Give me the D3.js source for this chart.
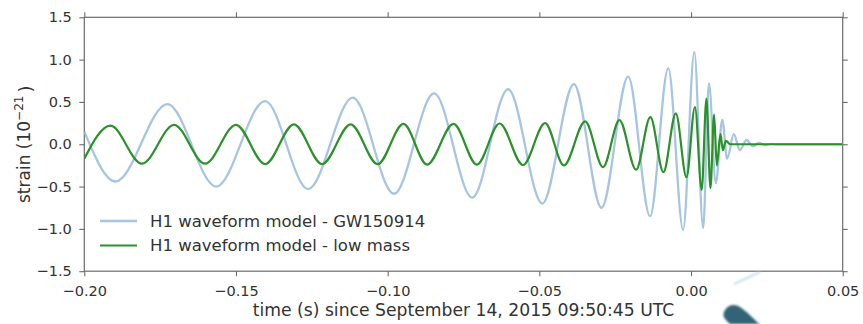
<!DOCTYPE html>
<html>
<head>
<meta charset="utf-8">
<script src="https://cdn.jsdelivr.net/npm/d3@7"></script>
<style>
  html, body { margin: 0; padding: 0; background: #fff; }
  svg { display: block; }
  text { font-family: "DejaVu Sans", "Bitstream Vera Sans", sans-serif; fill: #333; }
</style>
</head>
<body>
<svg id="chart" width="863" height="324"></svg>
<script>
// Strain waveforms (units of 1e-21) sampled at their turning points, time in seconds.
const gwTime = [-0.2000, -0.1897, -0.1726, -0.1565, -0.1404, -0.1262, -0.1115, -0.0979, -0.0847,
  -0.0721, -0.0603, -0.0490, -0.0386, -0.0295, -0.0207, -0.0135, -0.0075, -0.0026, 0.0011,
  0.0040, 0.0059, 0.0082, 0.0103, 0.0119, 0.0141, 0.0161, 0.0183, 0.0204, 0.0224, 0.0244,
  0.0264, 0.0287, 0.0500];
const gwStrain = [0.15, -0.44, 0.475, -0.50, 0.51, -0.53, 0.55, -0.585, 0.60,
  -0.63, 0.65, -0.70, 0.71, -0.75, 0.80, -0.85, 0.90, -1.01, 1.09,
  -0.99, 0.72, -0.46, 0.29, -0.17, 0.12, -0.07, 0.05, -0.025, 0.015, -0.01,
  0.005, 0.0, 0.0];

const lowTime = [-0.2000, -0.1914, -0.1810, -0.1704, -0.1602, -0.1500, -0.1404, -0.1309, -0.1216,
  -0.1122, -0.1033, -0.0948, -0.0870, -0.0783, -0.0706, -0.0631, -0.0554, -0.0481, -0.0419,
  -0.0349, -0.0290, -0.0236, -0.0181, -0.0134, -0.0091, -0.0050, -0.0015, 0.0013, 0.0035,
  0.0051, 0.0064, 0.0076, 0.0085, 0.0097, 0.0105, 0.0115, 0.0129, 0.0500];
const lowStrain = [-0.17, 0.22, -0.23, 0.23, -0.23, 0.23, -0.235, 0.235, -0.235,
  0.235, -0.235, 0.24, -0.24, 0.24, -0.24, 0.245, -0.245, 0.25, -0.25,
  0.27, -0.27, 0.285, -0.30, 0.32, -0.33, 0.365, -0.39, 0.44, -0.54,
  0.54, -0.52, 0.35, -0.25, 0.12, -0.07, 0.04, 0.0, 0.0];

const xTicks = [-0.20, -0.15, -0.10, -0.05, 0.00, 0.05];
const yTicks = [-1.5, -1.0, -0.5, 0.0, 0.5, 1.0, 1.5];

const seriesNames = ["H1 waveform model - GW150914", "H1 waveform model - low mass"];
const seriesColors = ["#a7c5e1", "#2b912b"];

const svg = d3.select("#chart");
const margin = { left: 84.3, right: 863 - 842.7, top: 17.3, bottom: 324 - 271.2 };
const W = 863, H = 324;

const x = d3.scaleLinear().domain([-0.20, 0.05]).range([margin.left, W - margin.right]);
const y = d3.scaleLinear().domain([-1.5, 1.5]).range([H - margin.bottom, margin.top]);

const defs = svg.append("defs");
defs.append("clipPath").attr("id", "plot-clip")
  .append("rect")
  .attr("x", x(-0.20)).attr("y", y(1.5))
  .attr("width", x(0.05) - x(-0.20)).attr("height", y(-1.5) - y(1.5));

const fmtMinus = s => s.replace("-", "\u2212");

// Axes: ticks point outward on all four sides
const axisColor = "#6b6b6b";
function styleAxis(g) {
  g.select(".domain").remove();
  g.selectAll(".tick line").attr("stroke", axisColor).attr("stroke-width", 1.1);
  g.selectAll(".tick text").style("font-size", "14.5px").attr("fill", "#333");
}

svg.append("g").attr("transform", `translate(0,${y(-1.5)})`)
  .call(d3.axisBottom(x).tickValues(xTicks).tickSize(5).tickPadding(10)
    .tickFormat(d => fmtMinus(d3.format(".2f")(d))))
  .call(styleAxis);
svg.append("g").attr("transform", `translate(0,${y(1.5)})`)
  .call(d3.axisTop(x).tickValues(xTicks).tickSize(5).tickFormat(""))
  .call(styleAxis);
svg.append("g").attr("transform", `translate(${x(-0.20)},0)`)
  .call(d3.axisLeft(y).tickValues(yTicks).tickSize(5).tickPadding(7.5)
    .tickFormat(d => fmtMinus(d3.format(".1f")(d))))
  .call(styleAxis);
svg.append("g").attr("transform", `translate(${x(0.05)},0)`)
  .call(d3.axisRight(y).tickValues(yTicks).tickSize(5).tickFormat(""))
  .call(styleAxis);

// Frame
svg.append("rect")
  .attr("x", x(-0.20)).attr("y", y(1.5))
  .attr("width", x(0.05) - x(-0.20)).attr("height", y(-1.5) - y(1.5))
  .attr("fill", "none").attr("stroke", axisColor).attr("stroke-width", 1.2);

// Waveforms
const line = d3.line()
  .x(d => x(d[0])).y(d => y(d[1]))
  .curve(d3.curveMonotoneX);

const plot = svg.append("g").attr("clip-path", "url(#plot-clip)");
plot.append("path")
  .datum(d3.zip(gwTime, gwStrain))
  .attr("d", line)
  .attr("fill", "none").attr("stroke", seriesColors[0]).attr("stroke-width", 2.3)
  .attr("stroke-linejoin", "round");
plot.append("path")
  .datum(d3.zip(lowTime, lowStrain))
  .attr("d", line)
  .attr("fill", "none").attr("stroke", seriesColors[1]).attr("stroke-width", 2.2)
  .attr("stroke-linejoin", "round");

// Legend
const legend = svg.append("g");
seriesNames.forEach((name, i) => {
  const ly = 221 + i * 24.5;
  legend.append("line")
    .attr("x1", 100).attr("x2", 137).attr("y1", ly).attr("y2", ly)
    .attr("stroke", seriesColors[i]).attr("stroke-width", i === 0 ? 2.3 : 2.2);
  legend.append("text")
    .attr("x", 150).attr("y", ly).attr("dy", "0.36em")
    .style("font-size", "16.5px")
    .text(name);
});

// Axis titles
svg.append("text")
  .attr("x", (x(-0.20) + x(0.05)) / 2).attr("y", 315.5)
  .attr("text-anchor", "middle")
  .style("font-size", "17.2px")
  .text("time (s) since September 14, 2015 09:50:45 UTC");

const yl = svg.append("text")
  .attr("transform", `translate(29.5,${y(0)}) rotate(-90)`)
  .attr("text-anchor", "middle")
  .style("font-size", "17px");
yl.append("tspan").text("strain (10");
yl.append("tspan").attr("dy", "-0.55em").style("font-size", "12px").text("\u221221");
yl.append("tspan").attr("dy", "0.55em").text("\u2009)");

// Ink smudge below the axis, near the right edge
defs.append("filter").attr("id", "soft")
  .append("feGaussianBlur").attr("stdDeviation", 1.2);
svg.append("path")
  .attr("d", "M724,312 C727,305 734,303 740,307 C746,311 751,316 757,322 L760,324 L730,324 C726,320 722,317 724,312 Z")
  .attr("fill", "#1d5368").attr("filter", "url(#soft)").attr("opacity", 0.9);
svg.append("path")
  .attr("d", "M734,284 L760,272")
  .attr("stroke", "#b9d6e6").attr("stroke-width", 1.6).attr("filter", "url(#soft)");
</script>
</body>
</html>
